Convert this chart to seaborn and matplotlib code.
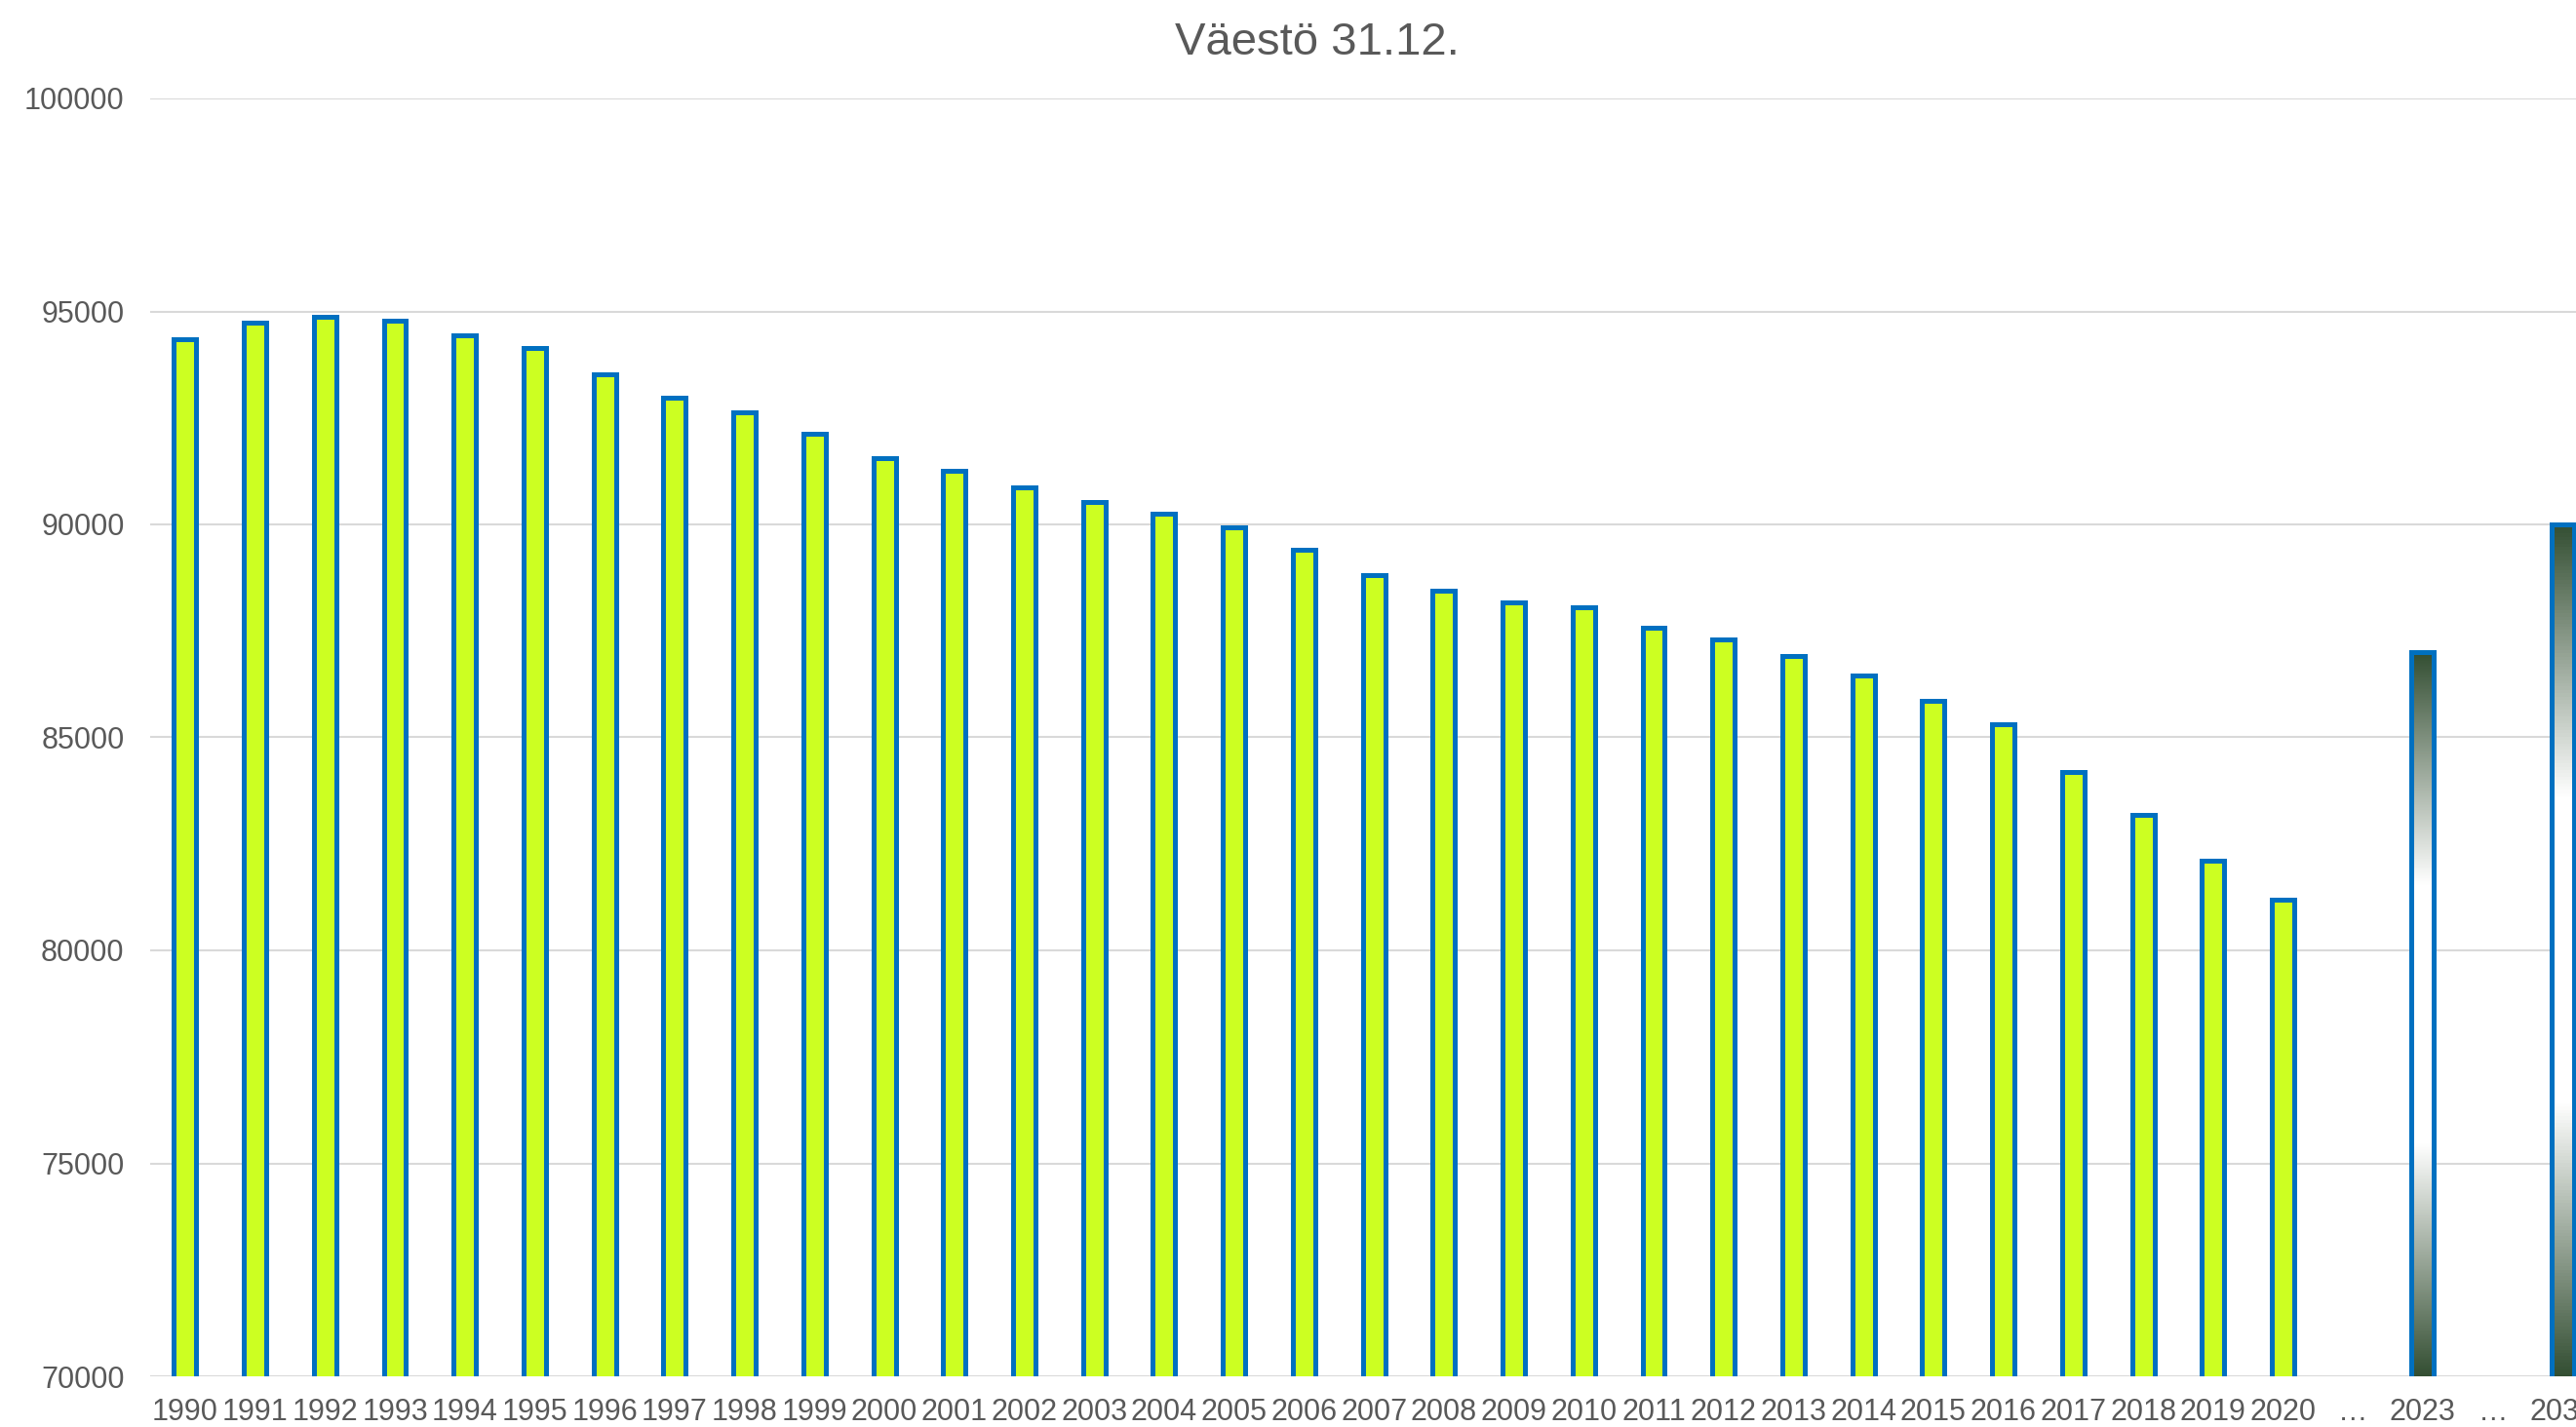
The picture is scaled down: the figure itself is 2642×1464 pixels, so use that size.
import numpy as np
import pandas as pd
import matplotlib
matplotlib.use("Agg")
import matplotlib.pyplot as plt
from matplotlib.colors import LinearSegmentedColormap
import seaborn as sns

# population at 31.12.
years = [str(y) for y in range(1990, 2021)]
population = [94340, 94730, 94870, 94785, 94445, 94140, 93525, 92985, 92640, 92135,
              91560, 91250, 90865, 90515, 90245, 89940, 89400, 88820, 88435, 88165,
              88060, 87565, 87305, 86920, 86455, 85850, 85300, 84190, 83190, 82110, 81180]
forecast_years = ["2023", "2030"]
forecast = [87000, 90000]

order = years + ["gap1", "2023", "gap2", "2030"]
tick_labels = years + ["…", "2023", "…", "2030"]
yticks = list(range(70000, 100001, 5000))

df = pd.DataFrame({
    "label": years + forecast_years,
    "value": population + forecast,
    "kind": ["observed"] * len(years) + ["forecast"] * len(forecast_years),
})

sns.set_style("white")
plt.rcParams["font.family"] = ["Liberation Sans", "DejaVu Sans"]
text_gray = "#595959"

fig = plt.figure(figsize=(26.42, 14.64), dpi=100)
ax = fig.add_axes([154 / 2642, 1 - 1412 / 1464, 1 - 154 / 2642, (1412 - 101) / 1464])

sns.barplot(data=df, x="label", y="value", hue="kind", order=order,
            palette={"observed": "#CCFF22", "forecast": "white"},
            width=0.32, edgecolor="#0070C0", linewidth=3.6, saturation=1,
            dodge=False, legend=False, ax=ax)

ylo, yhi = 70000, 100000

# gradient fill for the forecast bars
grad = LinearSegmentedColormap.from_list(
    "grad", [(0, "#344f33"), (0.32, "white"), (0.68, "white"), (1, "#344f33")])
ramp = np.linspace(0, 1, 256).reshape(-1, 1)
for p in ax.patches:
    idx = int(round(p.get_x() + p.get_width() / 2))
    if order[idx] in forecast_years:
        p.set_facecolor("none")
        top = p.get_y() + p.get_height()
        im = ax.imshow(ramp, cmap=grad, aspect="auto", origin="lower",
                       extent=[p.get_x(), p.get_x() + p.get_width(), ylo, top],
                       zorder=p.get_zorder() - 0.1)
        im.set_clip_path(p)

ax.set_xlim(-0.5, 34.19)
ax.set_ylim(ylo, yhi)
ax.set_yticks(yticks)
ax.set_yticklabels([str(v) for v in yticks])
ax.set_xticks(range(len(order)))
ax.set_xticklabels(tick_labels)
ax.tick_params(axis="both", length=0, labelsize=22, colors=text_gray)
ax.tick_params(axis="y", pad=19)
ax.tick_params(axis="x", pad=16)
ax.set_xlabel("")
ax.set_ylabel("")
ax.set_axisbelow(True)
ax.yaxis.grid(True, color="#d9d9d9", linewidth=1.5)
ax.xaxis.grid(False)
for s in ax.spines.values():
    s.set_visible(False)

fig.text(1351 / 2642, 1 - 44 / 1464, "Väestö 31.12.", ha="center", va="center",
         fontsize=34, color=text_gray)

fig.savefig("out.png", dpi=100)
